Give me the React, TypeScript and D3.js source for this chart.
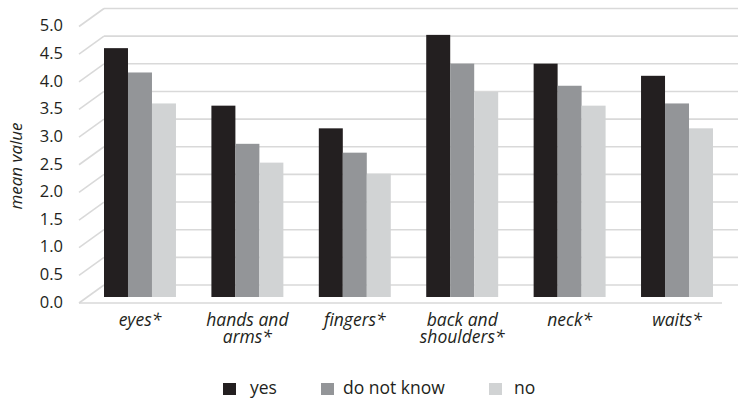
import React from "react";
import * as d3 from "d3";

const categories: string[][] = [
  ["eyes*"],
  ["hands and", "arms*"],
  ["fingers*"],
  ["back and", "shoulders*"],
  ["neck*"],
  ["waits*"],
];
const seriesNames = ["yes", "do not know", "no"];
const yesValues = [4.5, 3.46, 3.05, 4.74, 4.22, 4.0];
const dontKnowValues = [4.06, 2.77, 2.61, 4.22, 3.82, 3.5];
const noValues = [3.5, 2.43, 2.23, 3.71, 3.46, 3.05];
const yTicks = [0, 0.5, 1, 1.5, 2, 2.5, 3, 3.5, 4, 4.5, 5];

const seriesValues = [yesValues, dontKnowValues, noValues];
const colors = ["#231f20", "#939598", "#d1d3d4"];
const FONT = "'Open Sans', 'Noto Sans', sans-serif";

const W = 738;
const H = 399;
// depth offset between back wall and front edge of the floor
const DX = 25;
const DY = 18;
const backLeft = 104;
const backRight = 738;

export default function App() {
  const keys = categories.map((c) => c.join(" "));
  const x = d3.scaleBand<string>().domain(keys).range([104, 713]).paddingInner(0.33).paddingOuter(0);
  const xs = d3.scaleBand<string>().domain(seriesNames).range([0, x.bandwidth()]);
  const yBack = d3.scaleLinear().domain([0, 5]).range([285, 8.5]);
  const yFront = d3.scaleLinear().domain([0, 5]).range([285 + DY, 8.5 + DY]);
  const yBar = d3.scaleLinear().domain([0, 5]).range([297, 20.5]);

  return (
    <svg
      width={W}
      height={H}
      style={{ position: "absolute", left: 0, top: 0, background: "#fff" }}
      fontFamily={FONT}
    >
      {/* back-wall gridlines and side-wall diagonals */}
      {yTicks.map((t) => (
        <g key={t} stroke="#d9d9d9" strokeWidth={1.6} fill="none">
          <line x1={backLeft} x2={backRight} y1={yBack(t)} y2={yBack(t)} />
          <line x1={backLeft - DX} y1={yFront(t)} x2={backLeft} y2={yBack(t)} />
        </g>
      ))}
      {/* front edge of the floor */}
      <line x1={backLeft - DX} x2={722} y1={yFront(0)} y2={yFront(0)} stroke="#d9d9d9" strokeWidth={1.6} />

      {/* bars */}
      {keys.map((k, i) => (
        <g key={k} transform={`translate(${x(k)},0)`}>
          {seriesNames.map((s, j) => {
            const v = seriesValues[j][i];
            return (
              <rect
                key={s}
                x={xs(s)}
                width={xs.bandwidth()}
                y={yBar(v)}
                height={yBar(0) - yBar(v)}
                fill={colors[j]}
              />
            );
          })}
        </g>
      ))}

      {/* y tick labels */}
      {yTicks.map((t) => (
        <text
          key={t}
          x={63}
          y={yFront(t) - 1}
          dy="0.35em"
          textAnchor="end"
          fontSize={16.5}
          fill="#231f20"
        >
          {d3.format(".1f")(t)}
        </text>
      ))}

      {/* y axis title */}
      <text
        transform={`translate(22,166) rotate(-90)`}
        textAnchor="middle"
        fontSize={17}
        fontStyle="italic"
        fill="#231f20"
      >
        mean value
      </text>

      {/* category labels */}
      {categories.map((lines, i) => {
        const cx = (x(keys[i]) as number) + x.bandwidth() / 2;
        return lines.map((l, li) => (
          <text
            key={`${i}-${li}`}
            x={cx}
            y={326 + li * 17}
            textAnchor="middle"
            fontSize={17.5}
            fontStyle="italic"
            fill="#231f20"
          >
            {l}
          </text>
        ));
      })}

      {/* legend */}
      {seriesNames.map((s, j) => {
        const lx = [223, 321, 489][j];
        const tx = [250, 343, 514][j];
        return (
          <g key={s}>
            <rect x={lx} y={383} width={13} height={12} fill={colors[j]} />
            <text x={tx} y={394} fontSize={17.5} fill="#231f20">
              {s}
            </text>
          </g>
        );
      })}
    </svg>
  );
}
